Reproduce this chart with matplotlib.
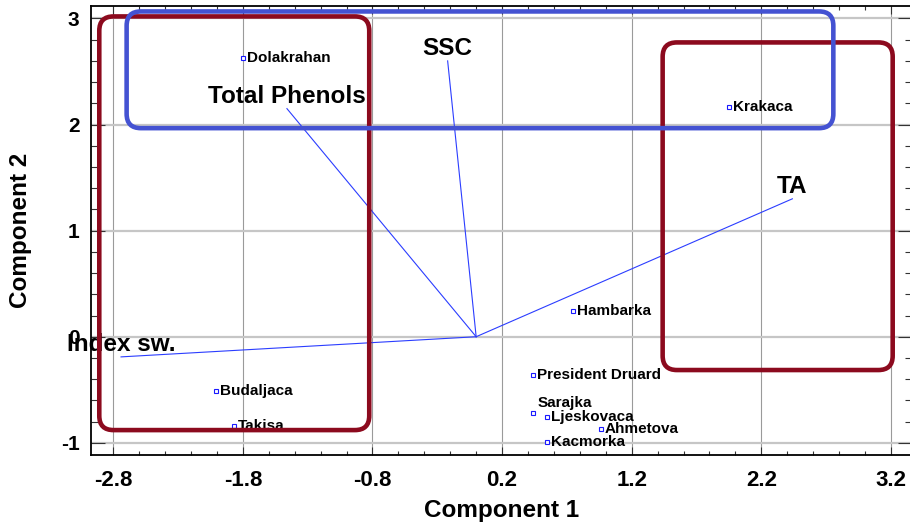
import matplotlib
matplotlib.use("Agg")
import matplotlib.pyplot as plt
from matplotlib.patches import FancyBboxPatch
from matplotlib.ticker import MultipleLocator
from typing import List, Tuple

# cultivar scores on the first two components
cultivars: List[str] = [
    "Dolakrahan", "Krakaca", "Hambarka", "President Druard", "Sarajka",
    "Ljeskovaca", "Ahmetova", "Kacmorka", "Budaljaca", "Takisa"
]
comp1: List[float] = [-1.80, 1.95, 0.75, 0.44, 0.44, 0.55, 0.96, 0.55, -2.01, -1.87]
comp2: List[float] = [2.63, 2.17, 0.24, -0.36, -0.72, -0.76, -0.87, -0.99, -0.51, -0.84]

# variable loadings (vector ends)
variables: List[str] = ["Total Phenols", "SSC", "TA", "Index sw."]
load1: List[float] = [-1.46, -0.22, 2.44, -2.74]
load2: List[float] = [2.15, 2.60, 1.30, -0.19]

# group outlines: x0, y0, x1, y1
group_boxes: List[Tuple[float, float, float, float]] = [
    (-2.908, -0.880, -0.825, 3.019),
    (1.439, -0.314, 3.214, 2.774),
    (-2.697, 1.966, 2.756, 3.066),
]
group_colors: List[str] = ["#8c0a1e", "#8c0a1e", "#4452d2"]

x_ticks: List[float] = [-2.8, -1.8, -0.8, 0.2, 1.2, 2.2, 3.2]
y_ticks: List[int] = [-1, 0, 1, 2, 3]


def main() -> None:
    plt.rcParams['font.family'] = ['Liberation Sans', 'DejaVu Sans']
    plt.rcParams['font.weight'] = 'bold'
    plt.rcParams['axes.unicode_minus'] = False

    fig = plt.figure(figsize=(9.1, 5.25), dpi=100)
    ax = fig.add_axes([0.0997, 0.1333, 0.9025, 0.8552])

    ax.set_xlim(-2.974, 3.363)
    ax.set_ylim(-1.115, 3.117)

    ax.set_xticks(x_ticks)
    ax.set_xticklabels([str(t) for t in x_ticks])
    ax.set_yticks(y_ticks)
    ax.set_yticklabels([str(t) for t in y_ticks])
    ax.xaxis.set_minor_locator(MultipleLocator(0.2))
    ax.yaxis.set_minor_locator(MultipleLocator(0.2))

    ax.grid(True, axis='x', which='major', color='#9a9a9a', linewidth=0.8)
    ax.grid(True, axis='y', which='major', color='#c6c6c6', linewidth=1.6)
    ax.set_axisbelow(True)

    ax.tick_params(which='both', direction='in', top=True, right=True, colors='#333333', width=0.8)
    ax.tick_params(axis='x', which='major', length=6, pad=11, labelsize=16, labelcolor='black')
    ax.tick_params(axis='x', which='minor', length=3)
    ax.tick_params(axis='y', which='major', length=10, pad=8, labelsize=15, labelcolor='black')
    ax.tick_params(axis='y', which='minor', length=5)

    for side in ['left', 'bottom', 'top']:
        ax.spines[side].set_linewidth(1.3)
        ax.spines[side].set_color('black')

    # loading vectors from the origin
    i: int = 0
    while i < len(variables):
        ax.plot([0, load1[i]], [0, load2[i]], color='#2b3dff', linewidth=0.8, zorder=3)
        ax.annotate(variables[i], (load1[i], load2[i]), xytext=(0, 6), textcoords='offset pixels',
                    ha='center', va='baseline', fontsize=17.5, fontweight='bold', color='black', zorder=5)
        i = i + 1

    # cultivar points
    ax.plot(comp1, comp2, linestyle='none', marker='s', markersize=3.2, markerfacecolor='white',
            markeredgecolor='#1a1aff', markeredgewidth=0.8, zorder=4)
    j: int = 0
    while j < len(cultivars):
        offset: Tuple[int, int] = (4, 0)
        if cultivars[j] == "Sarajka":
            offset = (4, 10)
        ax.annotate(cultivars[j], (comp1[j], comp2[j]), xytext=offset, textcoords='offset pixels',
                    ha='left', va='center', fontsize=11, fontweight='bold', color='black', zorder=5)
        j = j + 1

    # rounded outlines around the groups, drawn over the labels as in the original
    aspect: float = (129.6 / 106.1)
    k: int = 0
    while k < len(group_boxes):
        x0, y0, x1, y1 = group_boxes[k]
        box = FancyBboxPatch((x0, y0), x1 - x0, y1 - y0,
                             boxstyle="round,pad=0,rounding_size=0.11",
                             mutation_aspect=aspect, fill=False,
                             edgecolor=group_colors[k], linewidth=3.3, zorder=6)
        ax.add_patch(box)
        k = k + 1

    ax.set_xlabel("Component 1", fontsize=17.5, fontweight='bold')
    ax.set_ylabel("Component 2", fontsize=17.5, fontweight='bold')
    ax.xaxis.set_label_coords(0.5, -0.098)
    ax.yaxis.set_label_coords(-0.071, 0.5)

    fig.savefig("out.png", dpi=100)


if __name__ == '__main__':
    main()
